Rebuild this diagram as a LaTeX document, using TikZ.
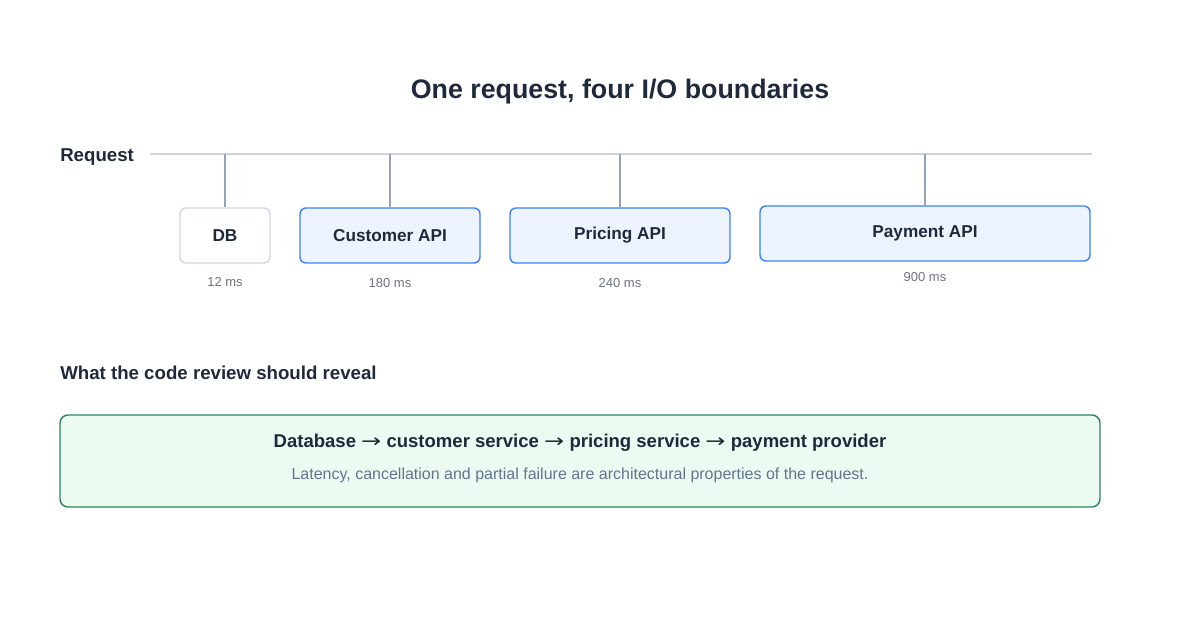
\documentclass[tikz,border=0pt]{standalone}
\usepackage{fontspec}
\usepackage{graphicx}
\setmainfont{Liberation Sans}
\newfontfamily\arrowfont{DejaVu Sans}
\usetikzlibrary{positioning}
\definecolor{ink}{HTML}{1E293B}
\definecolor{muted}{HTML}{6B7280}
\definecolor{slate}{HTML}{64748B}
\definecolor{rail}{HTML}{CBD5E1}
\definecolor{tap}{HTML}{94A3B8}
\definecolor{dbline}{HTML}{D1D8E2}
\definecolor{apiline}{HTML}{3B82F6}
\definecolor{apifill}{HTML}{EEF4FF}
\definecolor{okline}{HTML}{2F855A}
\definecolor{okfill}{HTML}{EBFBF2}
\newcommand{\thento}{ \scalebox{1.3}[1]{\arrowfont\mdseries →} }
\tikzset{
  heading/.style = {font=\bfseries\fontsize{14}{16}\selectfont, text=ink,
    inner sep=0pt, anchor=west},% section headings
  callbox/.style = {rectangle, rounded corners=4.5pt, line width=1.1pt,
    font=\bfseries\fontsize{12.9}{15}\selectfont, text=ink,
    minimum height=41.25pt, inner sep=0pt},% one I/O call
  db_box/.style = {callbox, draw=dbline, fill=white},% local call
  api_box/.style = {callbox, draw=apiline, fill=apifill},% remote call
  timing/.style = {font=\fontsize{9.75}{12}\selectfont, text=muted,
    inner sep=0pt},% latency label
  tapline/.style = {draw=tap, line width=1.1pt}% request to call
}
\begin{document}
\begin{tikzpicture}[x=0.75pt,y=-0.75pt]
\useasboundingbox (0,0) rectangle (1200,620);
\node [font=\bfseries\fontsize{20.1}{24}\selectfont, text=ink, inner sep=0pt]
  (title) at (620,92) {One request, four I/O boundaries};
% request timeline
\node [heading] (req) at (60,157) {Request};
\coordinate (railL) at (150,154);
\coordinate (railR) at (1092,154);
\draw [draw=rail, line width=1.5pt] (railL) -- (railR);
% the calls
\node [db_box, minimum width=67.5pt] (db) at (225,235.5) {DB};
\node [api_box, minimum width=135pt] (cust) at (390,235.5) {Customer API};
\node [api_box, minimum width=165pt] (price) at (620,235.5) {Pricing API};
\node [api_box, minimum width=247.5pt] (pay) at (925,233.5) {Payment API};
\foreach \call/\x in {db/225, cust/390, price/620, pay/925}{
  \coordinate (\call-tap) at (\x,154);
  \draw [tapline] (\call-tap) -- (\call.north);
}
\node [timing, below=10pt of db] (dbms) {12 ms};
\node [timing, below=11pt of cust] (custms) {180 ms};
\node [timing, below=11pt of price] (pricems) {240 ms};
\node [timing, below=8pt of pay] (payms) {900 ms};
% what the review should show
\node [heading] (review) at (60,373) {What the code review should reveal};
\node [rectangle, rounded corners=6pt, draw=okline, fill=okfill, line width=1.1pt,
  minimum width=780pt, minimum height=69pt] (chain) at (580,461) {};
\node [font=\bfseries\fontsize{13.9}{16}\selectfont, text=ink, inner sep=0pt]
  (chainhead) at (580,443)
  {Database\thento customer service\thento pricing service\thento payment provider};
\node [font=\fontsize{12}{14}\selectfont, text=slate, inner sep=0pt]
  (chainnote) at (580,475)
  {Latency, cancellation and partial failure are architectural properties of the request.};
\end{tikzpicture}
\end{document}
